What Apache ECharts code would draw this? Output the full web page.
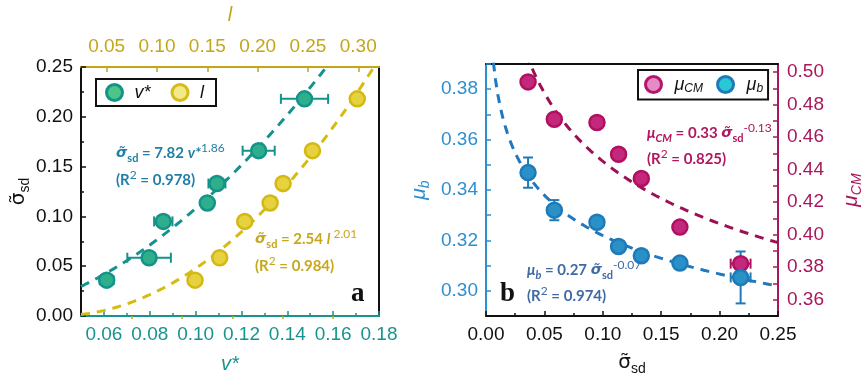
<!DOCTYPE html>
<html><head><meta charset="utf-8">
<script src="https://cdn.jsdelivr.net/npm/echarts@6/dist/echarts.min.js"></script>
<style>html,body{margin:0;padding:0;background:#fff}#c{width:865px;height:386px}</style>
</head><body><div id="c"></div>
<script>
// ---- data ----
const sigma      = [0.036, 0.0585, 0.095, 0.1135, 0.133, 0.166, 0.218];
const sigmaErrL  = [0.003, 0.003, 0.004, 0.003, 0.003, 0.003, 0.003];
const sigmaErrR  = [0.002, 0.002, 0.002, 0.002, 0.002, 0.002, 0.0085];
const vStar      = [0.0612, 0.0797, 0.0859, 0.1051, 0.1093, 0.1275, 0.1475];
const vStarErr   = [0.003, 0.0095, 0.004, 0.002, 0.0037, 0.007, 0.0103];
const lVal       = [0.1378, 0.1623, 0.1872, 0.2124, 0.2253, 0.2545, 0.299];
const muCM       = [0.494, 0.471, 0.469, 0.4495, 0.4346, 0.4047, 0.3822];
const muCMErr    = [0.002, 0.002, 0.002, 0.002, 0.003, 0.002, 0.002];
const muB        = [0.3469, 0.332, 0.3272, 0.3176, 0.3139, 0.311, 0.3053];
const muBErr     = [0.0060, 0.0040, 0.0015, 0.0015, 0.0015, 0.0015, 0.0103];
// fitted power laws y = a * x^b (coefficients as drawn on the chart)
const fitV   = {a: 7.82, b: 1.86};
const fitL   = {a: 2.54, b: 2.01};
const fitCM  = {a: 0.33, b: -0.13};
const fitB   = {a: 0.274, b: -0.07};
// tick labels
const vTicks      = [0.06, 0.08, 0.10, 0.12, 0.14, 0.16, 0.18];
const vMinor      = [0.07, 0.09, 0.11, 0.13, 0.15, 0.17];
const lTicks      = [0.05, 0.10, 0.15, 0.20, 0.25, 0.30];
const lMinor      = [0.075, 0.125, 0.175, 0.225, 0.275];
const cmLabels    = [0.36, 0.38, 0.40, 0.42, 0.44, 0.46, 0.48, 0.50];
const cmTicks     = [0.36, 0.37, 0.38, 0.39, 0.40, 0.41, 0.42, 0.43, 0.44, 0.45, 0.46, 0.47, 0.48, 0.49, 0.50];
const bLabels     = [0.30, 0.32, 0.34, 0.36, 0.38];
const bTicks      = [0.30, 0.31, 0.32, 0.33, 0.34, 0.35, 0.36, 0.37, 0.38, 0.39];

// ---- styles ----
const TEAL = '#17948f', OLIVE = '#c4a61a', BLUE = '#2c8fd0', MAROON = '#a8185c';
const FONT = 'Liberation Sans, Arial, sans-serif';
const EQF = 'Lato, Open Sans, sans-serif';
const GRK = 'DejaVu Sans, sans-serif';

function curve(f, x0, x1, n) {
  const out = [];
  for (let i = 0; i <= n; i++) { const x = x0 + (x1 - x0) * i / n; out.push([x, f.a * Math.pow(x, f.b)]); }
  return out;
}
function errData(xs, ys, xe, ye) { return xs.map((x, i) => [x, ys[i], xe ? xe[i] : 0, ye ? ye[i] : 0]); }
function errSeries(data, xi, yi, color) {
  return {
    type: 'custom', xAxisIndex: xi, yAxisIndex: yi, data: data, z: 3, silent: true,
    encode: {x: 0, y: 1},
    renderItem: function (params, api) {
      const x = api.value(0), y = api.value(1), xe = api.value(2), ye = api.value(3);
      const st = {stroke: color, lineWidth: 2};
      const ch = [];
      const cap = 5;
      if (xe > 0) {
        const l = api.coord([x - xe, y]), r = api.coord([x + xe, y]);
        ch.push({type: 'line', shape: {x1: l[0], y1: l[1], x2: r[0], y2: r[1]}, style: st});
        ch.push({type: 'line', shape: {x1: l[0], y1: l[1] - cap, x2: l[0], y2: l[1] + cap}, style: st});
        ch.push({type: 'line', shape: {x1: r[0], y1: r[1] - cap, x2: r[0], y2: r[1] + cap}, style: st});
      }
      if (ye > 0) {
        const t = api.coord([x, y + ye]), b = api.coord([x, y - ye]);
        ch.push({type: 'line', shape: {x1: t[0], y1: t[1], x2: b[0], y2: b[1]}, style: st});
        ch.push({type: 'line', shape: {x1: t[0] - cap, y1: t[1], x2: t[0] + cap, y2: t[1]}, style: st});
        ch.push({type: 'line', shape: {x1: b[0] - cap, y1: b[1], x2: b[0] + cap, y2: b[1]}, style: st});
      }
      return {type: 'group', children: ch};
    }
  };
}
function fitSeries(data, xi, yi, color) {
  return {type: 'line', xAxisIndex: xi, yAxisIndex: yi, data: data, showSymbol: false, symbol: 'none',
    clip: true, silent: true, z: 2, lineStyle: {color: color, width: 3, type: [9, 7]}};
}
function scat(name, xs, ys, xi, yi, fill, border) {
  return {type: 'scatter', name: name, xAxisIndex: xi, yAxisIndex: yi, data: xs.map((x, i) => [x, ys[i]]),
    symbol: 'circle', symbolSize: 15, z: 4, itemStyle: {color: fill, borderColor: border, borderWidth: 2.5, opacity: 1}};
}
function lab(color, size) { return {show: true, color: color, fontSize: size || 19, fontFamily: FONT, formatter: v => (+v).toFixed(2)}; }

const axisBase = {type: 'value', splitLine: {show: false}, scale: true};
function line(color) { return {show: true, onZero: false, lineStyle: {color: color, width: 2}}; }

const eqRich = function (c) {
  return {
    n: {fontFamily: EQF, fontWeight: 'bold', fontSize: 15, fill: c, lineHeight: 21},
    it: {fontFamily: EQF, fontWeight: 'bold', fontStyle: 'italic', fontSize: 15, fill: c, lineHeight: 21},
    sg: {fontFamily: GRK, fontWeight: 'bold', fontStyle: 'italic', fontSize: 14.5, fill: c, lineHeight: 21},
    sub: {fontFamily: EQF, fontWeight: 'bold', fontSize: 11, fill: c, verticalAlign: 'bottom', lineHeight: 21},
    isub: {fontFamily: EQF, fontWeight: 'bold', fontStyle: 'italic', fontSize: 11, fill: c, verticalAlign: 'bottom', lineHeight: 21},
    sup: {fontFamily: EQF, fontWeight: 'normal', fontSize: 12, fill: c, verticalAlign: 'top', lineHeight: 21}
  };
};
function txt(x, y, text, rich) {
  return {type: 'text', left: x, top: y - 10.5, z: 10, style: {text: text, rich: rich}};
}
const SIG = 'σ\u0303';
function nameRich(c, italic) {
  return {
    s: {fontSize: 20, fontFamily: GRK, fontStyle: italic ? 'italic' : 'normal', color: c, lineHeight: 26},
    sub: {fontSize: 14, fontFamily: FONT, fontStyle: italic ? 'italic' : 'normal', color: c, verticalAlign: 'bottom', lineHeight: 26}
  };
}

const option = {
  animation: false,
  backgroundColor: '#fff',
  grid: [
    {left: 81, top: 64, width: 298, height: 252, containLabel: false},
    {left: 486, top: 64, width: 297, height: 252, containLabel: false}
  ],
  xAxis: [
    Object.assign({}, axisBase, {gridIndex: 0, position: 'bottom', min: 0.05, max: 0.18,
      name: 'v*', nameLocation: 'middle', nameGap: 38,
      nameTextStyle: {color: TEAL, fontSize: 20, fontStyle: 'italic', fontFamily: FONT},
      axisLine: line(TEAL),
      axisTick: {show: true, inside: true, length: 5, customValues: vTicks, lineStyle: {color: TEAL, width: 1.5}},
      axisLabel: Object.assign(lab(TEAL), {customValues: vTicks, margin: 9})}),
    Object.assign({}, axisBase, {gridIndex: 0, position: 'top', min: 0.0245, max: 0.3206,
      name: 'l', nameLocation: 'middle', nameGap: 42,
      nameTextStyle: {color: OLIVE, fontSize: 20, fontStyle: 'italic', fontFamily: FONT},
      axisLine: line(OLIVE),
      axisTick: {show: true, inside: true, length: 5, customValues: lTicks, lineStyle: {color: OLIVE, width: 1.5}},
      axisLabel: Object.assign(lab(OLIVE), {customValues: lTicks, margin: 11})}),
    Object.assign({}, axisBase, {gridIndex: 1, position: 'bottom', min: 0, max: 0.25, interval: 0.05,
      name: '{s|' + SIG + '}{sub|sd}', nameLocation: 'middle', nameGap: 34,
      nameTextStyle: {rich: nameRich('#111', false)},
      axisLine: line('#111'),
      axisTick: {show: true, inside: true, length: 5, lineStyle: {color: '#111', width: 1.5}},
      minorTick: {show: true, splitNumber: 2, length: 3, lineStyle: {color: '#111', width: 1.5}},
      axisLabel: Object.assign(lab('#111'), {margin: 9})}),
    Object.assign({}, axisBase, {gridIndex: 1, position: 'top', min: 0, max: 0.25,
      axisLine: line('#111'), axisTick: {show: false}, axisLabel: {show: false}}),
    // minor tick overlays
    Object.assign({}, axisBase, {gridIndex: 0, position: 'bottom', min: 0.05, max: 0.18,
      axisLine: {show: false}, axisLabel: {show: false},
      axisTick: {show: true, inside: true, length: 3, customValues: vMinor, lineStyle: {color: TEAL, width: 1.5}}}),
    Object.assign({}, axisBase, {gridIndex: 0, position: 'top', min: 0.0245, max: 0.3206,
      axisLine: {show: false}, axisLabel: {show: false},
      axisTick: {show: true, inside: true, length: 3, customValues: lMinor, lineStyle: {color: OLIVE, width: 1.5}}})
  ],
  yAxis: [
    Object.assign({}, axisBase, {gridIndex: 0, position: 'left', min: 0, max: 0.25, interval: 0.05,
      name: '{s|' + SIG + '}{sub|sd}', nameLocation: 'middle', nameGap: 48,
      nameTextStyle: {rich: nameRich('#111', false)},
      axisLine: line('#111'),
      axisTick: {show: true, inside: true, length: 5, lineStyle: {color: '#111', width: 1.5}},
      minorTick: {show: true, splitNumber: 2, length: 3, lineStyle: {color: '#111', width: 1.5}},
      axisLabel: Object.assign(lab('#111'), {margin: 8})}),
    Object.assign({}, axisBase, {gridIndex: 0, position: 'right', min: 0, max: 0.25,
      axisLine: line('#111'), axisTick: {show: false}, axisLabel: {show: false}}),
    Object.assign({}, axisBase, {gridIndex: 1, position: 'left', min: 0.29, max: 0.39,
      name: '{i|μ}{sub|b}', nameLocation: 'middle', nameGap: 54,
      nameTextStyle: {rich: {i: {fontSize: 21, fontStyle: 'italic', fontFamily: FONT, color: BLUE, lineHeight: 26}, sub: {fontSize: 14, fontStyle: 'italic', fontFamily: FONT, color: BLUE, verticalAlign: 'bottom', lineHeight: 26}}},
      axisLine: line(BLUE),
      axisTick: {show: true, inside: true, length: 5, customValues: bTicks, lineStyle: {color: BLUE, width: 1.5}},
      axisLabel: Object.assign(lab(BLUE), {customValues: bLabels, margin: 8})}),
    Object.assign({}, axisBase, {gridIndex: 1, position: 'right', min: 0.35, max: 0.505,
      name: '{i|μ}{sub|CM}', nameLocation: 'middle', nameGap: 60,
      nameTextStyle: {rich: {i: {fontSize: 21, fontStyle: 'italic', fontFamily: FONT, color: MAROON, lineHeight: 26}, sub: {fontSize: 14, fontStyle: 'italic', fontFamily: FONT, color: MAROON, verticalAlign: 'bottom', lineHeight: 26}}},
      axisLine: line(MAROON),
      axisTick: {show: true, inside: true, length: 5, customValues: cmTicks, lineStyle: {color: MAROON, width: 1.5}},
      axisLabel: Object.assign(lab(MAROON), {customValues: cmLabels, margin: 9})})
  ],
  legend: [
    {left: 96, top: 79, orient: 'horizontal', borderColor: '#111', borderWidth: 2, borderRadius: 0,
      padding: [4, 12, 4, 9], itemWidth: 16, itemHeight: 16, itemGap: 20,
      textStyle: {fontSize: 18, fontStyle: 'italic', fontFamily: FONT, color: '#111', padding: [0, 0, 0, 7]},
      data: [
        {name: 'v*', itemStyle: {color: '#4cc58a', borderColor: '#14938a', borderWidth: 3}},
        {name: 'l', itemStyle: {color: '#f2ea88', borderColor: '#d6bc18', borderWidth: 3}}
      ]},
    {left: 638, top: 70, orient: 'horizontal', borderColor: '#111', borderWidth: 2, borderRadius: 0,
      padding: [5, 5, 5, 6], itemWidth: 16, itemHeight: 16, itemGap: 13,
      formatter: n => n === 'μCM' ? '{i|μ}{s|CM}' : '{i|μ}{s|b}',
      textStyle: {color: '#111', padding: [0, 0, 0, 8], rich: {
        i: {fontSize: 18, fontStyle: 'italic', fontFamily: FONT, color: '#111', lineHeight: 20},
        s: {fontSize: 12, fontStyle: 'italic', fontFamily: FONT, color: '#111', verticalAlign: 'bottom', lineHeight: 20}}},
      data: [
        {name: 'μCM', itemStyle: {color: '#e68cc4', borderColor: '#b3166b', borderWidth: 3}},
        {name: 'μb', itemStyle: {color: '#28c8d4', borderColor: '#1f7ab8', borderWidth: 3}}
      ]}
  ],
  graphic: [
    txt(116, 153, '{sg|' + SIG + '}{sub|sd}{n| = 7.82 }{it|v*}{sup|1.86}', eqRich('#1f7fa6')),
    txt(116, 180, '{n|(R}{sup|2}{n| = 0.978)}', eqRich('#1f7fa6')),
    txt(255, 239, '{sg|' + SIG + '}{sub|sd}{n| = 2.54 }{it|l }{sup|2.01}', eqRich('#c6a81c')),
    txt(255, 266, '{n|(R}{sup|2}{n| = 0.984)}', eqRich('#c6a81c')),
    txt(647, 133, '{it|μ}{isub|CM}{n| = 0.33 }{sg|' + SIG + '}{sub|sd}{sup|-0.13}', eqRich('#b0175e')),
    txt(647, 159, '{n|(R}{sup|2}{n| = 0.825)}', eqRich('#b0175e')),
    txt(527, 270, '{it|μ}{isub|b}{n| = 0.27 }{sg|' + SIG + '}{sub|sd}{sup|-0.07}', eqRich('#3f6aa6')),
    txt(527, 296, '{n|(R}{sup|2}{n| = 0.974)}', eqRich('#3f6aa6')),
    {type: 'text', left: 351, top: 281, z: 10, style: {text: 'a', fontFamily: 'Liberation Serif, serif', fontWeight: 'bold', fontSize: 27, fill: '#111'}},
    {type: 'text', left: 500, top: 281, z: 10, style: {text: 'b', fontFamily: 'Liberation Serif, serif', fontWeight: 'bold', fontSize: 27, fill: '#111'}}
  ],
  series: [
    fitSeries(curve(fitV, 0.05, 0.165, 80), 0, 0, '#14938c'),
    fitSeries(curve(fitL, 0.0245, 0.3206, 80), 1, 0, '#d5bc14'),
    fitSeries(curve(fitCM, 0.03, 0.25, 80), 2, 3, '#9c1054'),
    fitSeries(curve(fitB, 0.004, 0.25, 120), 2, 2, '#1f78c0'),
    errSeries(errData(vStar, sigma, vStarErr, sigmaErrL), 0, 0, '#14938c'),
    errSeries(errData(lVal, sigma, null, sigmaErrL), 1, 0, '#d4b814'),
    errSeries(errData(sigma, muCM, sigmaErrR, muCMErr), 2, 3, '#b0105f'),
    errSeries(errData(sigma, muB, sigmaErrR, muBErr), 2, 2, '#1f7ab8'),
    scat('v*', vStar, sigma, 0, 0, '#2fae8c', '#14938a'),
    scat('l', lVal, sigma, 1, 0, '#e6d23e', '#d4b814'),
    scat('μCM', sigma, muCM, 2, 3, '#c4287c', '#b0105f'),
    scat('μb', sigma, muB, 2, 2, '#2a90c8', '#1f7ab8')
  ]
};
const chart = echarts.init(document.getElementById('c'), null, {renderer: 'canvas'});
chart.setOption(option);
</script></body></html>
